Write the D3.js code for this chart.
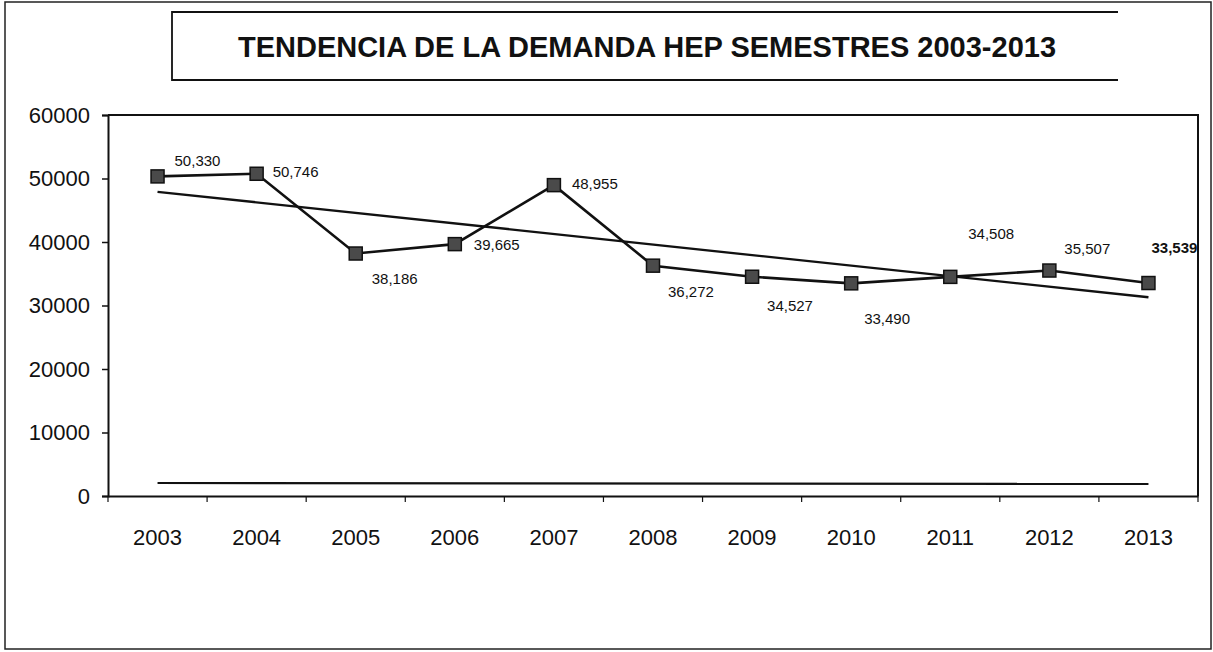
<!DOCTYPE html>
<html>
<head>
<meta charset="utf-8">
<script src="https://cdn.jsdelivr.net/npm/d3@7/dist/d3.min.js"></script>
<style>
  html, body { margin: 0; padding: 0; background: #fff; }
  svg { display: block; font-family: "Liberation Sans", Arial, sans-serif; }
</style>
</head>
<body>
<svg id="chart" width="1213" height="652"></svg>
<script>
// ---- data ----
const years = ["2003","2004","2005","2006","2007","2008","2009","2010","2011","2012","2013"];
const demand = [50330, 50746, 38186, 39665, 48955, 36272, 34527, 33490, 34508, 35507, 33539];
const labelTexts = ["50,330","50,746","38,186","39,665","48,955","36,272","34,527","33,490","34,508","35,507","33,539"];
const trendYears = ["2003", "2013"];
const trendValues = [47900, 31300];
const baseYears = ["2003", "2013"];
const baseValues = [2050, 1900];
const yTicks = [0, 10000, 20000, 30000, 40000, 50000, 60000];
const titleText = "TENDENCIA DE LA DEMANDA HEP SEMESTRES 2003-2013";

// label placement (styling, offsets from marker in px)
const labelOffsets = [[17,-16],[16,-2],[16,25],[19,1],[18,-1],[15,26],[15,29],[13,35],[18,-43],[15,-22],[3,-35]];

const svg = d3.select("#chart");
const W = 1213, H = 652;
const plot = { left: 108, right: 1198, top: 115, bottom: 496 };

// outer frame
svg.append("rect").attr("x", 5).attr("y", 2).attr("width", 1206).attr("height", 647)
  .attr("fill", "none").attr("stroke", "#222").attr("stroke-width", 1.5);

// title box (open on the right)
svg.append("path")
  .attr("d", "M1118,12 L172,12 L172,80 L1118,80")
  .attr("fill", "none").attr("stroke", "#111").attr("stroke-width", 1.8);
svg.append("text").attr("x", 647).attr("y", 57).attr("text-anchor", "middle")
  .attr("font-size", 29).attr("font-weight", "bold").attr("fill", "#111")
  .text(titleText);

const x = d3.scaleBand().domain(years).range([plot.left, plot.right]).paddingInner(0).paddingOuter(0);
const y = d3.scaleLinear().domain([0, 60000]).range([plot.bottom, plot.top]);
const cx = d => x(d) + x.bandwidth() / 2;

// plot frame: top and right border
svg.append("path")
  .attr("d", `M${plot.left},${plot.top} L${plot.right},${plot.top} L${plot.right},${plot.bottom}`)
  .attr("fill", "none").attr("stroke", "#111").attr("stroke-width", 2);

// y axis
const yAxis = d3.axisLeft(y).tickValues(yTicks).tickSize(6).tickPadding(12).tickFormat(d3.format("d"));
const gy = svg.append("g").attr("transform", `translate(${plot.left},0)`).call(yAxis);
gy.select(".domain").attr("stroke", "#111").attr("stroke-width", 2);
gy.selectAll(".tick line").attr("stroke", "#111").attr("stroke-width", 1.5);
gy.selectAll(".tick text").attr("font-size", 22).attr("fill", "#111")
  .attr("font-family", "'Liberation Sans', Arial, sans-serif");

// x axis (ticks at category boundaries)
const gx = svg.append("g").attr("transform", `translate(0,${plot.bottom})`)
  .call(d3.axisBottom(x).tickSize(0).tickPadding(0));
gx.select(".domain").attr("stroke", "#111").attr("stroke-width", 2);
gx.selectAll(".tick text").attr("font-size", 22).attr("fill", "#111").attr("dy", 0)
  .attr("y", 49).attr("font-family", "'Liberation Sans', Arial, sans-serif");
const bounds = years.map(d => x(d)).concat([plot.right]);
gx.selectAll("line.bt").data(bounds).enter().append("line").attr("class", "bt")
  .attr("x1", d => d).attr("x2", d => d).attr("y1", 0).attr("y2", 6)
  .attr("stroke", "#111").attr("stroke-width", 1.2);

// base line (near zero)
const line2 = d3.line().x((d, i) => cx(baseYears[i])).y(d => y(d));
svg.append("path").datum(baseValues).attr("d", line2)
  .attr("fill", "none").attr("stroke", "#111").attr("stroke-width", 2.2);

// trend line
const lineT = d3.line().x((d, i) => cx(trendYears[i])).y(d => y(d));
svg.append("path").datum(trendValues).attr("d", lineT)
  .attr("fill", "none").attr("stroke", "#111").attr("stroke-width", 2.4);

// main series
const line = d3.line().x((d, i) => cx(years[i])).y(d => y(d));
svg.append("path").datum(demand).attr("d", line)
  .attr("fill", "none").attr("stroke", "#111").attr("stroke-width", 2.6);

// markers
const ms = 13;
svg.selectAll("rect.mk").data(demand).enter().append("rect").attr("class", "mk")
  .attr("x", (d, i) => cx(years[i]) - ms / 2).attr("y", d => y(d) - ms / 2)
  .attr("width", ms).attr("height", ms)
  .attr("fill", "#4a4a4a").attr("stroke", "#111").attr("stroke-width", 1.5);

// data labels
svg.selectAll("text.lbl").data(demand).enter().append("text").attr("class", "lbl")
  .attr("x", (d, i) => cx(years[i]) + labelOffsets[i][0])
  .attr("y", (d, i) => y(d) + labelOffsets[i][1])
  .attr("dy", "0.35em")
  .attr("font-size", 15).attr("fill", "#111")
  .attr("font-weight", (d, i) => i === demand.length - 1 ? "bold" : "normal")
  .text((d, i) => labelTexts[i]);
</script>
</body>
</html>
